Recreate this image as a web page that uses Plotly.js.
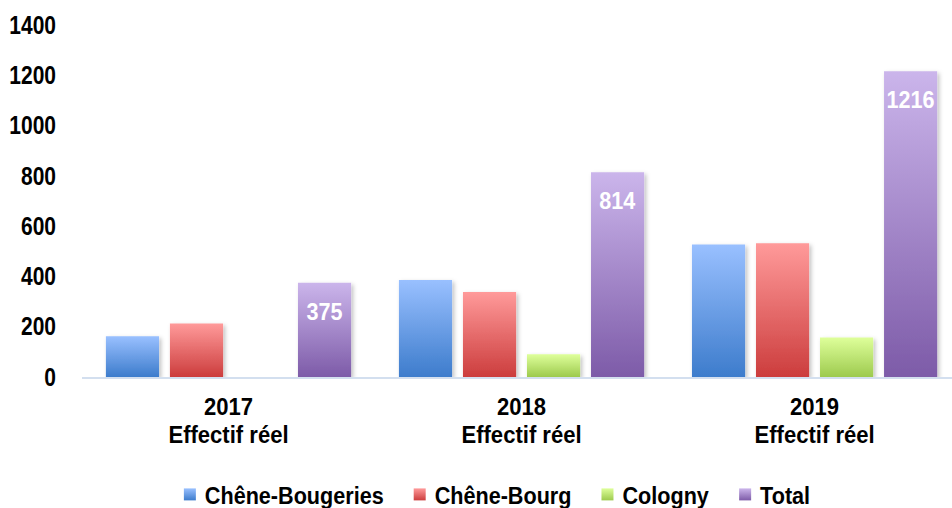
<!DOCTYPE html>
<html><head><meta charset="utf-8">
<script src="https://cdn.plot.ly/plotly-3.0.1.min.js"></script>
<style>body{margin:0;background:#fff}#c{width:952px;height:508px}</style>
</head><body><div id="c"></div>
<script>
const categories = ["2017<br>Effectif réel", "2018<br>Effectif réel", "2019<br>Effectif réel"];
const chBougeries = [162, 386, 527];
const chBourg = [213, 338, 532];
const cologny = [0, 90, 157];
const total = [375, 814, 1216];
const seriesNames = ["Chêne-Bougeries", "Chêne-Bourg", "Cologny", "Total"];
const tickVals = [0, 200, 400, 600, 800, 1000, 1200, 1400];

const grads = [["#99C0FF", "#3D7CCC"], ["#FF9A9A", "#CC3D3D"], ["#DEFF9A", "#9DCA4E"], ["#CBB5EB", "#7D5BA8"]];
const mid = ["#6A9FE6", "#E66A6A", "#BEE574", "#A488CA"];
const F = "'Liberation Sans', Arial, sans-serif";

const data = [chBougeries, chBourg, cologny, total].map((v, i) => ({
  type: "bar", x: categories, y: v, name: seriesNames[i],
  marker: {color: mid[i]},
  text: i === 3 ? v.map(String) : undefined,
  textposition: i === 3 ? "inside" : "none",
  insidetextanchor: "end",
  textangle: 0,
  constraintext: "none",
  textfont: {family: F, size: 24, color: "#ffffff", weight: "bold"},
  hoverinfo: "none"
}));

const layout = {
  width: 952, height: 508,
  margin: {l: 82, r: 0, t: 25, b: 131},
  paper_bgcolor: "#fff", plot_bgcolor: "#fff",
  barmode: "group", bargap: 0.126, bargroupgap: 0.17,
  showlegend: true,
  legend: {orientation: "h", x: 0.477, xanchor: "center", yref: "container", y: 0.026, yanchor: "middle",
    font: {family: F, size: 24, color: "#000", weight: "bold"}},
  xaxis: {range: [-0.5, 2.469], showline: true, linecolor: "#D3DFEF", linewidth: 2,
    ticks: "", showgrid: false, ticklabelstandoff: 7,
    tickfont: {family: F, size: 24, color: "#000", weight: "bold"}},
  yaxis: {range: [0, 1400], tickvals: tickVals, ticktext: tickVals.map(String),
    showgrid: false, zeroline: false, showline: false, ticks: "", ticklabelstandoff: 25,
    tickfont: {family: F, size: 25, color: "#000", weight: "bold"}}
};

function condense(el, s, dy) {
  const ax = parseFloat(el.getAttribute("x")) || 0;
  const t = el.getAttribute("transform") || "";
  el.setAttribute("transform", t + (dy ? " translate(0," + dy + ")" : "") +
    " translate(" + ax + ",0) scale(" + s + ",1) translate(" + (-ax) + ",0)");
}

Plotly.newPlot("c", data, layout, {staticPlot: true}).then(gd => {
  const svg = gd.querySelector("svg.main-svg");
  const ns = "http://www.w3.org/2000/svg";
  const defs = svg.querySelector("defs");
  grads.forEach((g, i) => {
    const lg = document.createElementNS(ns, "linearGradient");
    lg.setAttribute("id", "bg" + i);
    lg.setAttribute("x1", "0"); lg.setAttribute("y1", "0");
    lg.setAttribute("x2", "0"); lg.setAttribute("y2", "1");
    [[0, g[0]], [1, g[1]]].forEach(([o, c]) => {
      const s = document.createElementNS(ns, "stop");
      s.setAttribute("offset", o); s.setAttribute("stop-color", c);
      lg.appendChild(s);
    });
    defs.appendChild(lg);
  });
  const flt = document.createElementNS(ns, "filter");
  flt.setAttribute("id", "shadow");
  flt.setAttribute("x", "-20%"); flt.setAttribute("y", "-10%");
  flt.setAttribute("width", "150%"); flt.setAttribute("height", "130%");
  const ds = document.createElementNS(ns, "feDropShadow");
  ds.setAttribute("dx", "2"); ds.setAttribute("dy", "2"); ds.setAttribute("stdDeviation", "2");
  ds.setAttribute("flood-color", "#000"); ds.setAttribute("flood-opacity", "0.25");
  flt.appendChild(ds); defs.appendChild(flt);

  gd.querySelectorAll(".barlayer .trace").forEach((t, i) => {
    t.querySelectorAll("path").forEach(p => { p.style.fill = "url(#bg" + i + ")"; p.setAttribute("filter", "url(#shadow)"); });
    t.querySelectorAll("text.bartext").forEach(tx => condense(tx, 0.9, 12));
  });

  gd.querySelectorAll(".yaxislayer-above .ytick text").forEach(tx => condense(tx, 0.84));
  gd.querySelectorAll(".xaxislayer-above .xtick text").forEach(tx => {
    tx.querySelectorAll("tspan.line").forEach((ts, k) => { if (k > 0) ts.setAttribute("dy", "1.18em"); });
    condense(tx, 0.92);
  });

  const legend = gd.querySelector(".legend");
  const sb = legend.querySelector(".scrollbox");
  if (sb) sb.removeAttribute("clip-path");
  const items = Array.from(legend.querySelectorAll("g.traces"));
  items.forEach((it, i) => {
    it.querySelectorAll(".legendpoints path").forEach(p => p.style.fill = "url(#bg" + i + ")");
    const tx = it.querySelector("text.legendtext");
    tx.setAttribute("x", "35");
    condense(tx, 0.9);
  });
  const parseT = s => { const m = /translate\(\s*([-\d.]+)[ ,]+([-\d.]+)/.exec(s || ""); return m ? [+m[1], +m[2]] : [0, 0]; };
  let x = parseT(items[0].getAttribute("transform"))[0];
  const ys = items.map(it => parseT(it.getAttribute("transform"))[1]);
  items.forEach((it, i) => {
    const w = it.querySelector("text.legendtext").getBoundingClientRect().width;
    it.setAttribute("transform", "translate(" + x + "," + ys[i] + ")");
    x += w + 51;
  });
  const L = items[0].querySelector(".legendpoints path").getBoundingClientRect().left;
  const R = items[items.length - 1].querySelector("text.legendtext").getBoundingClientRect().right;
  const shift = 497 - (L + R) / 2;
  items.forEach((it, i) => {
    const p = parseT(it.getAttribute("transform"));
    it.setAttribute("transform", "translate(" + (p[0] + shift) + "," + p[1] + ")");
  });
});
</script></body></html>
